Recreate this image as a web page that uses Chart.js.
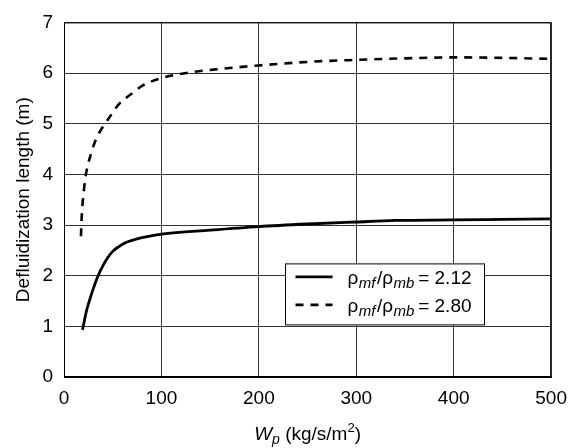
<!DOCTYPE html>
<html>
<head>
<meta charset="utf-8">
<script src="https://cdn.jsdelivr.net/npm/chart.js@4"></script>
<style>
  html, body { margin: 0; padding: 0; background: #fff; }
  canvas { display: block; }
</style>
</head>
<body>
<canvas id="chart" width="577" height="448"></canvas>
<script>
// values
const wpSolid = [19, 21, 23, 26, 30, 35, 40, 45, 50, 56, 63, 72, 80, 100, 150, 200, 250, 300, 340, 400, 450, 500];
const lenSolid = [0.93, 1.12, 1.3, 1.5, 1.74, 2.0, 2.2, 2.36, 2.48, 2.57, 2.65, 2.71, 2.75, 2.82, 2.9, 2.97, 3.02, 3.06, 3.09, 3.1, 3.11, 3.12];

const wpDashed = [17.4, 18, 18.8, 20.5, 22.5, 27.6, 33, 39.6, 46.4, 56.6, 68.6, 80.5, 100, 131.8, 160, 200, 250, 300, 350, 400, 450, 500];
const lenDashed = [2.78, 3.1, 3.36, 3.7, 4.0, 4.4, 4.7, 4.93, 5.12, 5.39, 5.58, 5.75, 5.9, 6.02, 6.08, 6.15, 6.22, 6.26, 6.29, 6.31, 6.3, 6.28];

const legendLabels = [['2.12', false], ['2.80', true]];

const FONT = '"Liberation Sans", Arial, Helvetica, sans-serif';

function toPoints(xs, ys) {
  return xs.map((x, i) => ({ x: x, y: ys[i] }));
}

// draws one piece of the mixed text and returns the new x
function piece(ctx, text, x, y, size, italic) {
  ctx.font = (italic ? 'italic ' : '') + size + 'px ' + FONT;
  ctx.fillText(text, x, y);
  return x + ctx.measureText(text).width;
}

function pieceWidth(ctx, text, size, italic) {
  ctx.font = (italic ? 'italic ' : '') + size + 'px ' + FONT;
  return ctx.measureText(text).width;
}

const boxAndLegend = {
  id: 'boxAndLegend',
  afterDraw(chart) {
    const ctx = chart.ctx;
    const a = chart.chartArea;
    ctx.save();

    // frame round the plot
    ctx.strokeStyle = '#000';
    ctx.lineWidth = 1;
    ctx.strokeRect(a.left + 0.5, a.top + 0.5, a.right - a.left - 1, a.bottom - a.top - 1);

    // legend box
    const bx = a.left + 221.5, by = a.top + 241.5, bw = 199, bh = 61;
    ctx.fillStyle = '#fff';
    ctx.fillRect(bx, by, bw, bh);
    ctx.strokeRect(bx, by, bw, bh);

    ctx.fillStyle = '#000';
    ctx.textBaseline = 'alphabetic';
    legendLabels.forEach((lab, i) => {
      const ly = by + 13 + i * 28;
      ctx.beginPath();
      ctx.lineWidth = 2.8;
      ctx.setLineDash(lab[1] ? [8, 7] : []);
      ctx.moveTo(bx + 10, ly);
      ctx.lineTo(bx + 47, ly);
      ctx.stroke();
      ctx.setLineDash([]);

      const base = ly + 7;
      let x = bx + 62;
      x = piece(ctx, 'ρ', x, base, 19, false);
      x = piece(ctx, 'mf', x + 0.5, base + 4, 15, true);
      x = piece(ctx, '/', x + 1.5, base, 19, false);
      x = piece(ctx, 'ρ', x, base, 19, false);
      x = piece(ctx, 'mb', x + 0.5, base + 4, 15, true);
      piece(ctx, ' = ' + lab[0], x - 1.5, base, 19, false);
    });

    // x axis title with subscript and superscript
    const parts = [['W', 19, true, 0], ['p', 14, true, 4], [' (kg/s/m', 19, false, 0], ['2', 13, false, -8], [')', 19, false, 0]];
    let total = 0;
    parts.forEach(p => { total += pieceWidth(ctx, p[0], p[1], p[2]); });
    let tx = (a.left + a.right) / 2 - total / 2;
    const ty = 440;
    parts.forEach(p => { tx = piece(ctx, p[0], tx, ty + p[3], p[1], p[2]); });

    ctx.restore();
  }
};

new Chart(document.getElementById('chart'), {
  type: 'line',
  data: {
    datasets: [
      {
        data: toPoints(wpSolid, lenSolid),
        borderColor: '#000',
        borderWidth: 2.8,
        pointRadius: 0,
        cubicInterpolationMode: 'monotone',
        fill: false
      },
      {
        data: toPoints(wpDashed, lenDashed),
        borderColor: '#000',
        borderWidth: 2.6,
        borderDash: [8, 7],
        pointRadius: 0,
        cubicInterpolationMode: 'monotone',
        fill: false
      }
    ]
  },
  options: {
    responsive: false,
    animation: false,
    layout: { padding: { top: 21, right: 24, left: 0, bottom: 0 } },
    plugins: {
      legend: { display: false },
      tooltip: { enabled: false }
    },
    scales: {
      x: {
        type: 'linear',
        min: 0,
        max: 500,
        ticks: {
          stepSize: 100,
          color: '#000',
          padding: 10,
          font: { family: FONT, size: 19 }
        },
        grid: { color: '#333', lineWidth: 1, drawTicks: false },
        border: { color: '#000', width: 1 },
        afterFit(scale) { scale.height = 71; }
      },
      y: {
        min: 0,
        max: 7,
        ticks: {
          stepSize: 1,
          color: '#000',
          padding: 11,
          font: { family: FONT, size: 19 }
        },
        grid: { color: '#333', lineWidth: 1, drawTicks: false },
        border: { color: '#000', width: 1 },
        title: {
          display: true,
          text: 'Defluidization length (m)',
          color: '#000',
          font: { family: FONT, size: 19 },
          padding: { top: 12, bottom: 0 }
        },
        afterFit(scale) { scale.width = 64; }
      }
    }
  },
  plugins: [boxAndLegend]
});
</script>
</body>
</html>
